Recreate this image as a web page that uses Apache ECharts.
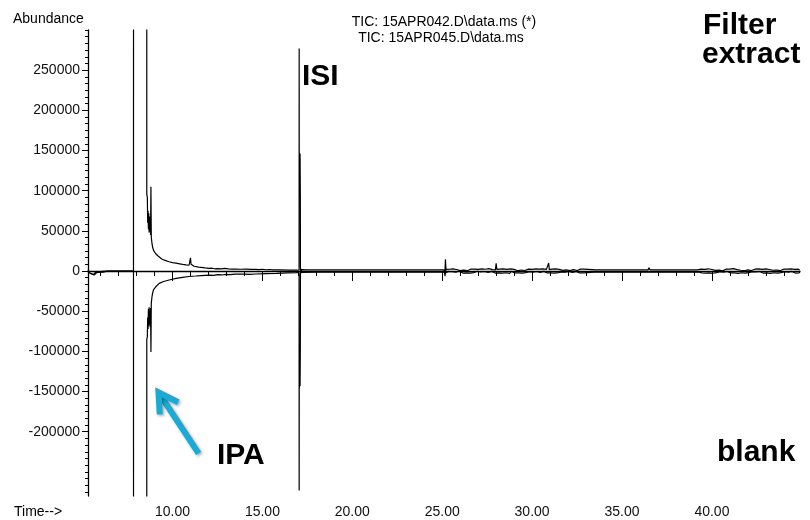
<!DOCTYPE html>
<html>
<head>
<meta charset="utf-8">
<script src="https://cdn.jsdelivr.net/npm/echarts@6/dist/echarts.min.js"></script>
<style>
  html, body { margin: 0; padding: 0; background: #fff; }
  #chart { width: 810px; height: 520px; }
</style>
</head>
<body>
<div id="chart"></div>
<script>
// Total ion chromatograms, [retention time (min), abundance]
// Filter extract (TIC 15APR042) is drawn upward
const extractSignal = [
  [5.30, 1500], [5.40, -2500], [5.50, -1000], [5.60, -4500], [5.70, -2000], [5.80, -3500],
  [5.90, -1500], [6.00, -2500], [6.10, -500], [6.20, -1500], [6.40, 0], [7.00, 0], [7.83, 0],
  [7.85, 3000000], [8.56, 3000000],
  [8.57, 95000], [8.60, 92000], [8.62, 60000], [8.64, 75000], [8.66, 52000], [8.68, 72000],
  [8.70, 48000], [8.72, 68000], [8.74, 50000], [8.76, 62000], [8.78, 45000], [8.80, 105000],
  [8.82, 42000], [8.86, 34000], [8.90, 29000], [8.96, 25000], [9.07, 21500], [9.18, 19000],
  [9.26, 17000], [9.40, 15000], [9.55, 13500], [9.81, 11600], [10.00, 10500], [10.20, 9800],
  [10.40, 9000], [10.56, 8300], [10.75, 7600], [10.92, 7200], [10.97, 9000], [11.00, 16500],
  [11.03, 8500], [11.08, 6500], [11.20, 6000], [11.29, 5400], [11.45, 4800], [11.60, 4600],
  [11.80, 3900], [12.03, 3300], [12.20, 3500], [12.35, 2800], [12.50, 3000], [12.70, 2700],
  [12.90, 3200], [12.96, 2500], [13.10, 2600], [13.30, 2400], [13.50, 2500], [13.80, 2200],
  [14.10, 2300], [14.40, 2000], [14.63, 2100], [14.80, 1700], [15.00, 2200], [15.20, 1600],
  [15.40, 1900], [15.60, 1500], [16.00, 1400], [16.50, 1200], [16.90, 1100], [17.04, 1000],
  [17.045, 277000], [17.05, 92000], [17.065, 147000], [17.08, 93000], [17.095, 146000],
  [17.11, 92000], [17.115, 5000], [17.14, -2500], [17.17, 1800], [17.25, 1200],
  [17.50, 1500], [18.02, 1600], [18.06, 4000], [18.10, 1500], [19.60, 1500], [19.63, 3800],
  [19.66, 1400], [20.50, 1500], [21.50, 1500], [22.50, 1400], [23.50, 1500], [24.50, 1400],
  [25.10, 1500], [25.15, -3000], [25.18, 14500], [25.21, 2000],
  [25.30, 600], [25.40, 2200], [25.50, 1000], [25.60, 2700], [25.70, 300], [25.80, 1900],
  [25.90, 2400], [26.00, 500], [26.10, 2100], [26.20, 1200], [26.30, 2800], [26.40, 400],
  [26.50, 1700], [26.60, 2500], [26.70, 800], [26.80, 2300], [26.90, 200], [27.00, 2000],
  [27.10, 1100], [27.20, 2600], [27.30, 600], [27.40, 2200], [27.50, 1400], [27.60, 2900],
  [27.70, 500], [27.80, 1800], [27.90, 2400], [27.96, 1500], [28.00, 9500], [28.04, 2000],
  [28.10, 700], [28.20, 2300], [28.30, 1000], [28.40, 2600], [28.50, 300], [28.60, 2100],
  [28.70, 1500], [28.80, 2700], [28.90, 600], [29.00, 2000], [29.10, 2500], [29.20, 400],
  [29.30, 2200], [29.40, 1300], [29.50, 2800], [29.60, 700], [29.70, 1900], [29.80, 2400],
  [29.90, 300], [30.00, 2100], [30.10, 1000], [30.20, 2600], [30.30, 500], [30.40, 2300],
  [30.50, 1600], [30.60, 2800], [30.70, 400], [30.80, 2000], [30.88, 2200], [30.92, 10000],
  [30.96, 1800], [31.00, 600], [31.10, 2400], [31.20, 1100], [31.30, 2700], [31.40, 300],
  [31.50, 2000], [31.60, 2500], [31.70, 800], [31.80, 2200], [31.90, 1400], [32.00, 2600],
  [32.10, 500], [32.20, 2100], [32.30, 1700], [32.40, 2800], [32.50, 700], [32.60, 1900],
  [32.70, 2300], [32.80, 1000], [32.90, 2400], [33.00, 1500],
  [33.55, 1500], [33.60, 2600], [33.65, 1500], [34.25, 1500], [34.30, 2600], [34.35, 1500],
  [35.35, 1500], [35.40, 2800], [35.45, 1500], [36.45, 1500], [36.50, 4200],
  [36.55, 1500], [37.25, 1500], [37.30, 2500], [37.35, 1500], [38.35, 1500], [38.40, 2400],
  [38.45, 1500], [39.20, 1500],
  [39.40, 2400], [39.50, 600], [39.60, 2100], [39.70, 1300], [39.80, 2800], [39.90, 400],
  [40.00, 1900], [40.10, 2500], [40.20, 800], [40.30, 2200], [40.40, 1100], [40.50, 2700],
  [40.60, 300], [40.70, 2000], [40.80, 2400], [40.90, 700], [41.00, 2300], [41.10, 1500],
  [41.20, 2900], [41.30, 500], [41.40, 1800], [41.50, 2600], [41.60, 1000], [41.70, 2200],
  [41.80, 400], [41.90, 2500], [42.00, 1400], [42.10, 2800], [42.20, 600], [42.30, 2000],
  [42.40, 2300], [42.50, 900], [42.60, 2600], [42.70, 300], [42.80, 2100], [42.90, 1700],
  [43.00, 2700], [43.10, 500], [43.20, 1900], [43.30, 2400], [43.40, 1000], [43.50, 2200],
  [43.60, 1300], [43.70, 2800], [43.80, 400], [43.90, 2000], [44.00, 2500], [44.10, 800],
  [44.20, 2300], [44.30, 1200], [44.40, 2600], [44.50, 500], [44.60, 2100], [44.70, 1600],
  [44.80, 2400], [44.88, 1000]
];

// Blank (TIC 15APR045) is drawn downward
const blankSignal = [
  [5.30, -1000], [5.45, -3000], [5.55, -1500], [5.65, -5000], [5.75, -2500], [5.85, -4000],
  [5.95, -1000], [6.05, -3000], [6.15, -1500], [6.30, -500], [6.50, 0], [7.00, 0], [7.83, 0],
  [7.85, -3000000], [8.56, -3000000],
  [8.57, -85000], [8.60, -82000], [8.62, -58000], [8.64, -72000], [8.66, -47000], [8.68, -68000],
  [8.70, -45000], [8.72, -66000], [8.74, -50000], [8.76, -70000], [8.78, -46000], [8.80, -100700],
  [8.82, -40000], [8.86, -32000], [8.89, -27800], [8.95, -23000], [9.07, -19600], [9.26, -15400],
  [9.50, -13000], [9.81, -11200], [10.20, -9200], [10.56, -7900], [10.90, -6800], [11.29, -6200],
  [11.60, -5600], [12.03, -5000], [12.30, -5400], [12.50, -4500], [12.75, -4900], [12.96, -4100],
  [13.20, -4400], [13.50, -3900], [14.00, -3800], [14.30, -4200], [14.63, -3700], [15.20, -3200],
  [15.80, -2800], [16.40, -2300], [16.90, -2000], [17.04, -1800],
  [17.045, -273000], [17.05, -92000], [17.065, -145000], [17.08, -95000], [17.095, -143000],
  [17.11, -92000], [17.115, -5000], [17.14, 2500], [17.17, -1800], [17.25, -1500],
  [18.00, -1500], [19.00, -1400], [20.00, -1500], [21.00, -1500], [22.00, -1400], [23.00, -1500],
  [24.00, -1500], [25.12, -1500], [25.16, -6500], [25.19, 1500], [25.23, -2000],
  [25.35, -400], [25.45, -2600], [25.55, -900], [25.65, -2200], [25.75, -1500], [25.85, -2900],
  [25.95, -300], [26.05, -2000], [26.15, -2500], [26.25, -700], [26.35, -2300], [26.45, -1200],
  [26.55, -2700], [26.65, -500], [26.75, -1900], [26.85, -2400], [26.95, -300], [27.05, -2100],
  [27.15, -1000], [27.25, -2800], [27.35, -600], [27.45, -2200], [27.55, -1600], [27.65, -2600],
  [27.75, -400], [27.85, -2000], [27.95, -2500], [28.05, -800], [28.15, -2300], [28.25, -1300],
  [28.35, -2700], [28.45, -500], [28.55, -2100], [28.65, -1800], [28.75, -2900], [28.85, -400],
  [28.95, -2000], [29.05, -2400], [29.15, -700], [29.25, -2200], [29.35, -1100], [29.45, -2600],
  [29.55, -300], [29.65, -1900], [29.75, -2500], [29.85, -900], [29.95, -2300], [30.05, -1400],
  [30.15, -2800], [30.25, -600], [30.35, -2100], [30.45, -1700], [30.55, -2600], [30.65, -400],
  [30.75, -2000], [30.85, -2400], [30.95, -800], [31.05, -2200], [31.15, -1200], [31.25, -2700],
  [31.35, -500], [31.45, -1900], [31.55, -2500], [31.65, -1000], [31.75, -2300], [31.85, -1500],
  [31.95, -2800], [32.05, -600], [32.15, -2100], [32.25, -1800], [32.35, -2600], [32.45, -400],
  [32.55, -2000], [32.65, -2400], [32.75, -900], [32.85, -2200], [32.95, -1500],
  [33.45, -1500], [33.50, -2400], [33.55, -1500], [34.75, -1500], [34.80, -2600], [34.85, -1500],
  [35.95, -1500], [36.00, -2300], [36.05, -1500], [37.45, -1500], [37.50, -2400], [37.55, -1500],
  [38.85, -1500], [38.90, -2500], [38.95, -1500], [39.30, -1500],
  [39.45, -2200], [39.55, -500], [39.65, -2600], [39.75, -1000], [39.85, -2300], [39.95, -1600],
  [40.05, -2800], [40.15, -400], [40.25, -2000], [40.35, -2500], [40.45, -700], [40.55, -2200],
  [40.65, -1300], [40.75, -2700], [40.85, -500], [40.95, -1900], [41.05, -2400], [41.15, -900],
  [41.25, -2300], [41.35, -1400], [41.45, -2900], [41.55, -600], [41.65, -2100], [41.75, -1700],
  [41.85, -2600], [41.95, -300], [42.05, -2000], [42.15, -2400], [42.25, -800], [42.35, -2200],
  [42.45, -1200], [42.55, -2700], [42.65, -500], [42.75, -1900], [42.85, -2500], [42.95, -1000],
  [43.05, -2300], [43.15, -1500], [43.25, -2800], [43.35, -600], [43.45, -2100], [43.55, -1800],
  [43.65, -2600], [43.75, -400], [43.85, -2000], [43.95, -2400], [44.05, -900], [44.15, -2200],
  [44.25, -1300], [44.35, -2700], [44.45, -500], [44.55, -1900], [44.65, -2500], [44.75, -1000],
  [44.85, -2300], [44.90, -1200]
];

// Axis tick and label positions
const xMajorTicks = [10, 15, 20, 25, 30, 35, 40];
const xMinorTicks = [6, 7, 8, 9, 11, 12, 13, 14, 16, 17, 18, 19, 21, 22, 23, 24, 26, 27, 28, 29,
  31, 32, 33, 34, 36, 37, 38, 39, 41, 42, 43, 44];
const yMajorTicks = [-200000, -150000, -100000, -50000, 0, 50000, 100000, 150000, 200000, 250000];
const yMinorStep = 50000 / 6;

const X_MIN = 5.3, X_MAX = 44.9, Y_MIN = -280000, Y_MAX = 300000;

const yMinorTicks = [];
for (let v = Y_MAX; v >= Y_MIN - 1; v -= yMinorStep) yMinorTicks.push(Math.round(v));

const FONT = 'Arial, "Liberation Sans", sans-serif';
const INK = '#000';

const chart = echarts.init(document.getElementById('chart'), null, { renderer: 'canvas' });

chart.setOption({
  animation: false,
  backgroundColor: '#fff',
  grid: { left: 88, right: 10, top: 30, bottom: 24, containLabel: false },
  xAxis: [
    {
      type: 'value', min: X_MIN, max: X_MAX, position: 'bottom',
      axisLine: { show: true, lineStyle: { color: INK, width: 1.3 } },
      axisTick: { show: true, customValues: xMajorTicks, length: 10, lineStyle: { color: INK } },
      axisLabel: {
        show: true, customValues: xMajorTicks, margin: 9,
        color: '#111', fontSize: 14, fontFamily: FONT,
        formatter: v => v.toFixed(2)
      },
      splitLine: { show: false }
    },
    {
      type: 'value', min: X_MIN, max: X_MAX, position: 'bottom', gridIndex: 0,
      axisLine: { show: false },
      axisTick: { show: true, customValues: xMinorTicks, length: 5, lineStyle: { color: INK } },
      axisLabel: { show: false },
      splitLine: { show: false }
    }
  ],
  yAxis: [
    {
      type: 'value', min: Y_MIN, max: Y_MAX, position: 'left',
      axisLine: { show: true, lineStyle: { color: INK, width: 1.3 } },
      axisTick: { show: true, customValues: yMajorTicks, length: 6, lineStyle: { color: INK } },
      axisLabel: {
        show: true, customValues: yMajorTicks, margin: 8,
        color: '#111', fontSize: 14, fontFamily: FONT,
        formatter: v => String(v)
      },
      splitLine: { show: false }
    },
    {
      type: 'value', min: Y_MIN, max: Y_MAX, position: 'left',
      axisLine: { show: false },
      axisTick: { show: true, customValues: yMinorTicks, length: 3, lineStyle: { color: INK } },
      axisLabel: { show: false },
      splitLine: { show: false }
    }
  ],
  series: [
    {
      name: 'TIC: 15APR042.D\\data.ms (*)', type: 'line', xAxisIndex: 0, yAxisIndex: 0,
      data: extractSignal, showSymbol: false, clip: true,
      lineStyle: { color: INK, width: 1.2 }
    },
    {
      name: 'TIC: 15APR045.D\\data.ms', type: 'line', xAxisIndex: 0, yAxisIndex: 0,
      data: blankSignal, showSymbol: false, clip: true,
      lineStyle: { color: INK, width: 1.2 }
    }
  ]
});

// Text annotations and the cyan arrow pointing at the IPA peak
function text(id, str, x, y, font, align) {
  return {
    type: 'text', id: id, x: x, y: y, silent: true,
    style: {
      text: str, font: font, fill: INK,
      align: align || 'left', verticalAlign: 'middle',
      textAlign: align || 'left', textVerticalAlign: 'middle'
    }
  };
}

const small = '14px ' + FONT;
const bold = 'bold 30px ' + FONT;

const tip = chart.convertToPixel({ gridIndex: 0 }, [9.22, -151000]);
const tail = chart.convertToPixel({ gridIndex: 0 }, [11.45, -227000]);
const dx = tail[0] - tip[0], dy = tail[1] - tip[1];
const len = Math.hypot(dx, dy);
const ux = dx / len, uy = dy / len;
const arm = 22, ang = 30 * Math.PI / 180;
const rot = (a) => [tip[0] + arm * (ux * Math.cos(a) - uy * Math.sin(a)),
                    tip[1] + arm * (ux * Math.sin(a) + uy * Math.cos(a))];
const barbA = rot(ang), barbB = rot(-ang);
const arrowColor = '#1AAAD4';
const arrowStyle = {
  stroke: arrowColor, lineWidth: 6, fill: null, lineCap: 'butt', lineJoin: 'miter',
  shadowBlur: 3, shadowColor: 'rgba(0,0,0,0.35)', shadowOffsetX: 1.5, shadowOffsetY: 1.5
};

chart.setOption({
  graphic: [
    text('abundance', 'Abundance', 13, 19, small),
    text('time', 'Time-->', 14, 512, small),
    text('tic1', 'TIC: 15APR042.D\\data.ms (*)', 444, 22, small, 'center'),
    text('tic2', 'TIC: 15APR045.D\\data.ms', 441, 38, small, 'center'),
    text('isi', 'ISI', 302, 77, bold),
    text('ipa', 'IPA', 217, 456, bold),
    text('filter', 'Filter', 703, 26, bold),
    text('extract', 'extract', 702, 55, bold),
    text('blank', 'blank', 717, 453, bold),
    {
      type: 'line', id: 'arrowShaft', silent: true,
      shape: { x1: tail[0], y1: tail[1], x2: tip[0] + ux * 3, y2: tip[1] + uy * 3 },
      style: arrowStyle
    },
    {
      type: 'polyline', id: 'arrowHead', silent: true,
      shape: { points: [barbA, tip, barbB] },
      style: arrowStyle
    }
  ]
});
</script>
</body>
</html>
